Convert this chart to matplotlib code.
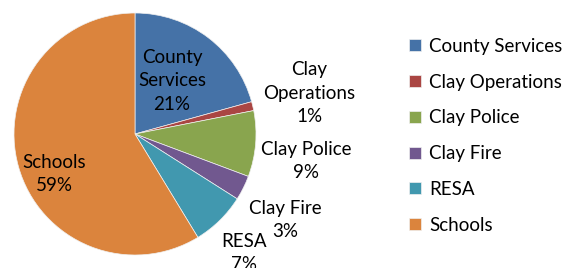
import matplotlib
matplotlib.use('Agg')
import matplotlib.pyplot as plt

# data
categories = ['County Services', 'Clay Operations', 'Clay Police', 'Clay Fire', 'RESA', 'Schools']
values = [20.7, 1.2, 8.8, 3.3, 7.3, 58.7]
colors = ['#4572A7', '#AA4643', '#89A54E', '#71588F', '#4198AF', '#DB843D']

# label text wrapping and label centres (pixels from top-left)
label_names = ['County\nServices', 'Clay\nOperations', 'Clay Police', 'Clay Fire', 'RESA', 'Schools']
label_pos = [(172, 81), (309, 93), (306, 161), (285, 220), (244, 253), (54, 174)]

plt.rcParams['font.family'] = ['Lato', 'DejaVu Sans']
W, H = 563, 268
fig = plt.figure(figsize=(W / 100, H / 100), dpi=100)

cx, cy, r = 135, 134, 121
ax = fig.add_axes([(cx - r) / W, (H - cy - r) / H, 2 * r / W, 2 * r / H])
wedges, _ = ax.pie(values, colors=colors, startangle=90, counterclock=False,
                   radius=1, wedgeprops=dict(linewidth=0.5, edgecolor='#f0f0f0'))
ax.set_xlim(-1, 1)
ax.set_ylim(-1, 1)
ax.set_aspect('equal')
ax.axis('off')

total = sum(values)
for name, v, (px, py) in zip(label_names, values, label_pos):
    txt = f'{name}\n{round(v / total * 100):.0f}%'
    fig.text(px / W, 1 - py / H, txt, ha='center', va='center', fontsize=13.5,
             color='black', linespacing=1.45)

leg = fig.legend(wedges, categories, loc='upper left', bbox_to_anchor=(409 / W, 1 - 38 / H),
                 frameon=False, fontsize=13.5, handlelength=0.62, handleheight=0.62,
                 handletextpad=0.45, labelspacing=1.0, borderaxespad=0, borderpad=0)

fig.savefig('out.png', dpi=100)
